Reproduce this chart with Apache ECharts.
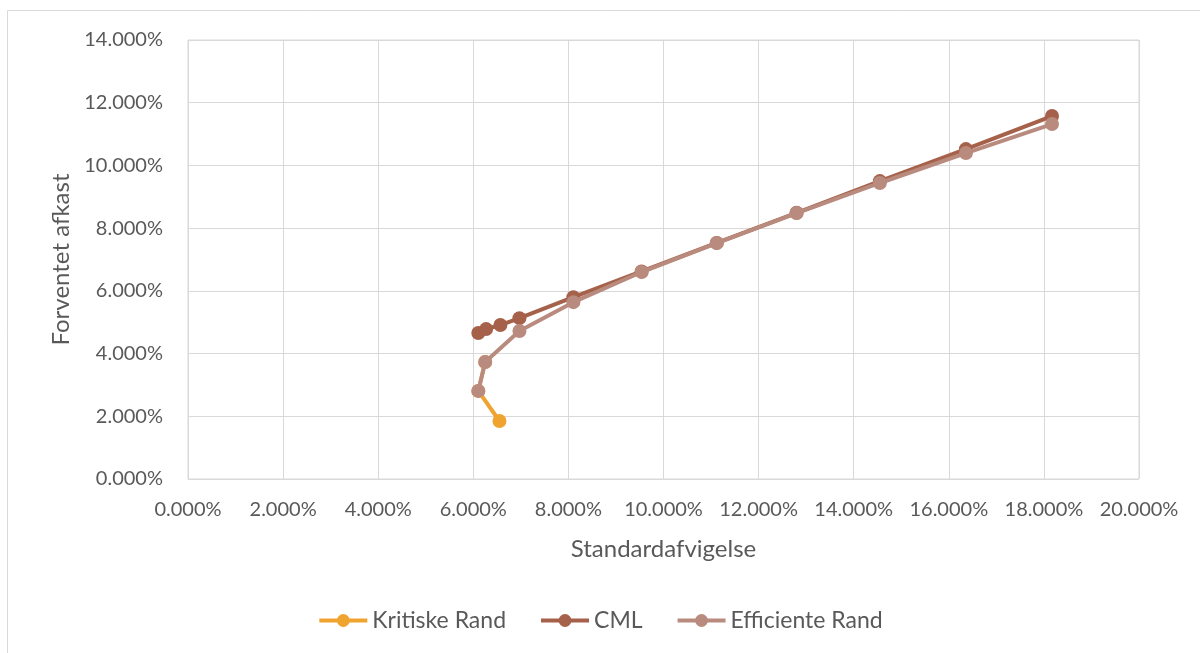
<!DOCTYPE html>
<html>
<head>
<meta charset="utf-8">
<script src="https://cdn.jsdelivr.net/npm/echarts@6/dist/echarts.min.js"></script>
<style>
html,body{margin:0;padding:0;background:#fff;}
#c{width:1200px;height:653px;}
</style>
</head>
<body>
<div id="c"></div>
<script>
// Standard deviation (%) and expected return (%)
const kritiskeX = [6.55, 6.105, 6.25];
const kritiskeY = [1.85, 2.81, 3.73];
const cmlX = [6.105, 6.27, 6.57, 6.97, 8.105, 9.54, 11.12, 12.8, 14.55, 16.36, 18.17];
const cmlY = [4.655, 4.78, 4.91, 5.13, 5.80, 6.62, 7.53, 8.49, 9.50, 10.52, 11.575];
const effX = [6.105, 6.25, 6.97, 8.105, 9.54, 11.12, 12.8, 14.55, 16.36, 18.17];
const effY = [2.81, 3.73, 4.72, 5.64, 6.60, 7.525, 8.48, 9.44, 10.395, 11.32];
const seriesNames = ['Kritiske Rand', 'CML', 'Efficiente Rand'];
const colors = ['#f0a430', '#a6614a', '#b98b7e'];

const pairs = (xs, ys) => xs.map((x, i) => [x, ys[i]]);
const fmt = v => v.toFixed(3) + '%';
const font = 'Lato, "Open Sans", sans-serif';

const chart = echarts.init(document.getElementById('c'));
const data = [pairs(kritiskeX, kritiskeY), pairs(cmlX, cmlY), pairs(effX, effY)];
chart.setOption({
  animation: false,
  graphic: [{
    type: 'rect', shape: {x: 7.5, y: 10.5, width: 1300, height: 700},
    style: {fill: 'none', stroke: '#d9d9d9', lineWidth: 1}, silent: true
  }],
  grid: {left: 188, top: 40, width: 951, height: 439, show: true, borderColor: '#d9d9d9', borderWidth: 1},
  legend: {
    top: 604, left: 'center', itemGap: 33, itemWidth: 48, itemHeight: 16,
    textStyle: {fontFamily: font, fontSize: 23, color: '#595959'},
    data: seriesNames.map((n, i) => ({name: n, lineStyle: {width: 4, color: colors[i]}}))
  },
  xAxis: {
    type: 'value', min: 0, max: 20, interval: 2,
    name: 'Standardafvigelse', nameLocation: 'middle', nameGap: 58,
    nameTextStyle: {fontFamily: font, fontSize: 24, color: '#595959'},
    axisLine: {show: false}, axisTick: {show: false},
    axisLabel: {formatter: fmt, fontFamily: font, fontSize: 20, color: '#595959', margin: 21},
    splitLine: {lineStyle: {color: '#d9d9d9', width: 1}}
  },
  yAxis: {
    type: 'value', min: 0, max: 14, interval: 2,
    name: 'Forventet afkast', nameLocation: 'middle', nameGap: 115,
    nameTextStyle: {fontFamily: font, fontSize: 24, color: '#595959'},
    axisLine: {show: false}, axisTick: {show: false},
    axisLabel: {formatter: fmt, fontFamily: font, fontSize: 20, color: '#595959', margin: 25},
    splitLine: {lineStyle: {color: '#d9d9d9', width: 1}}
  },
  series: seriesNames.map((n, i) => ({
    name: n, type: 'line', data: data[i],
    symbol: 'circle', symbolSize: 14,
    lineStyle: {width: 4, color: colors[i]},
    itemStyle: {color: colors[i]},
    z: 2 + i
  }))
});
</script>
</body>
</html>
